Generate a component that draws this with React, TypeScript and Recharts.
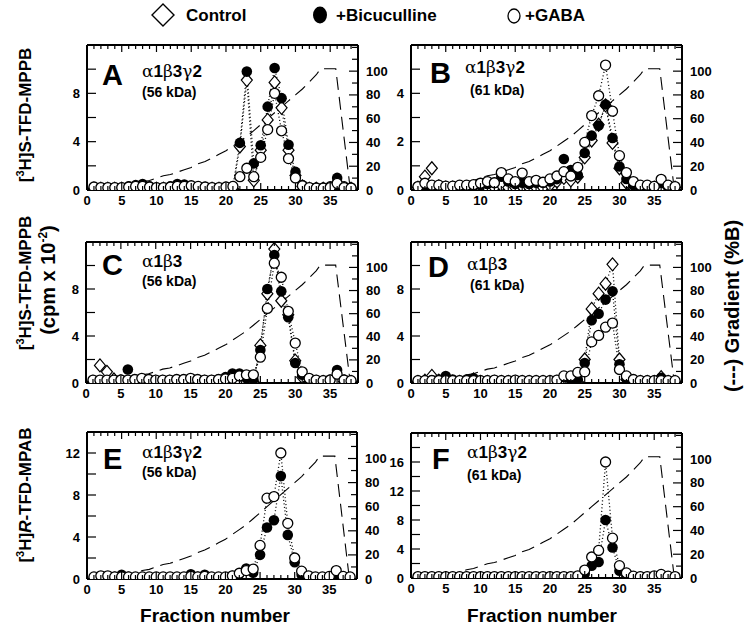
import { ComposedChart, Line, ReferenceLine, Scatter, XAxis, YAxis } from "recharts"

const FONT = '"Liberation Sans", Arial, Helvetica, sans-serif'

// fraction numbers collected on every run
const fractions = [
  1, 2, 3, 4, 5, 6, 7, 8, 9, 10, 11, 12, 13, 14, 15, 16, 17, 18, 19, 20, 21, 22, 23, 24, 25, 26, 27, 28, 29, 30, 31, 32, 33, 34,
  35, 36, 37, 38,
]

// elution gradient (%B) on the right axis
const gradientFraction = [5, 6, 7, 8, 9, 10, 11, 12, 13, 14, 15, 16, 17, 18, 19, 20, 21, 22, 23, 24, 25, 26, 27, 28, 29, 30, 31, 32, 33, 33.6, 35.8, 37.9]
const gradientPercent = [3, 4, 5, 7, 8, 10, 12, 13, 15, 17, 19, 22, 24, 27, 30, 33, 37, 41, 45, 50, 55, 60, 65, 70, 75, 80, 85, 91, 97, 102, 102, 0]

// A: a1b3g2, 56 kDa, [3H]S-TFD-MPPB (cpm x 10^-2)
const controlA = [
  0.1, 0.1, 0.1, 0.1, 0.1, 0.1, 0.1, 0.1, 0.1, 0.1, 0.1, 0.1, 0.1, 0.1, 0.1, 0.1, 0.1, 0.1, 0.1, 0.1, 0.1, 3.6, 9.1, 0.8, 3.3, 5.8,
  8.9, 6.8, 3.3, 1.2, 0.3, 0.1, 0.1, 0.1, 0.1, 0.6, 0.1, 0.1,
]
const bicA = [
  0.2, 0.2, 0.2, 0.2, 0.2, 0.3, 0.4, 0.5, 0.3, 0.2, 0.2, 0.3, 0.5, 0.45, 0.3, 0.2, 0.2, 0.2, 0.2, 0.2, 0.3, 3.9, 9.8, 2.2, 3.7, 6.9,
  10.1, 7.6, 3.75, 1.5, 0.4, 0.2, 0.2, 0.2, 0.3, 1.0, 0.3, 0.2,
]
const gabaA = [
  0.25, 0.2, 0.2, 0.2, 0.2, 0.25, 0.3, 0.3, 0.25, 0.2, 0.2, 0.25, 0.3, 0.3, 0.35, 0.3, 0.25, 0.2, 0.2, 0.25, 0.3, 1.1, 1.8, 1.1, 2.7,
  5.0, 8.0, 4.9, 2.6, 1.0, 0.35, 0.2, 0.15, 0.15, 0.2, 0.55, 0.2, 0.15,
]

// B: a1b3g2, 61 kDa
const controlB = [
  0.1, 0.55, 0.9, 0.15, 0.1, 0.1, 0.1, 0.1, 0.1, 0.1, 0.1, 0.1, 0.2, 0.1, 0.1, 0.15, 0.1, 0.1, 0.1, 0.2, 0.35, 0.5, 0.4, 0.55, 1.35,
  2.05, 2.7, 3.5, 1.95, 0.9, 0.3, 0.1, 0.1, 0.1, 0.1, 0.1, 0.1, 0.1,
]
const bicB = [
  0.15, 0.15, 0.15, 0.15, 0.15, 0.15, 0.15, 0.15, 0.2, 0.2, 0.25, 0.3, 0.55, 0.35, 0.25, 0.3, 0.25, 0.3, 0.3, 0.35, 0.45, 1.28, 0.83,
  0.62, 1.53, 2.25, 2.67, 3.54, 2.15, 0.97, 0.46, 0.2, 0.15, 0.15, 0.15, 0.3, 0.15, 0.1,
]
const gabaB = [
  0.14, 0.28, 0.2, 0.2, 0.16, 0.16, 0.2, 0.2, 0.22, 0.28, 0.35, 0.3, 0.72, 0.46, 0.35, 0.7, 0.35, 0.4, 0.32, 0.46, 0.58, 0.76, 0.58,
  0.94, 1.97, 3.08, 3.9, 5.17, 3.26, 1.42, 0.72, 0.35, 0.2, 0.2, 0.15, 0.44, 0.2, 0.14,
]

// C: a1b3, 56 kDa
const controlC = [
  0.1, 1.5, 0.95, 0.3, 0.1, 0.1, 0.1, 0.1, 0.1, 0.1, 0.1, 0.1, 0.1, 0.1, 0.1, 0.1, 0.1, 0.1, 0.1, 0.1, 0.1, 0.1, 0.1, 0.1, 3.2, 7.6,
  11.4, 7.0, 5.8, 1.9, 0.5, 0.1, 0.1, 0.1, 0.1, 0.1, 0.1, 0.1,
]
const bicC = [
  0.2, 0.2, 0.2, 0.2, 0.3, 1.15, 0.3, 0.2, 0.2, 0.2, 0.2, 0.2, 0.2, 0.2, 0.2, 0.2, 0.2, 0.2, 0.3, 0.5, 0.8, 0.8, 0.4, 0.3, 2.8, 8.0,
  10.9, 7.8, 5.6, 1.7, 0.7, 0.2, 0.2, 0.2, 0.3, 1.1, 0.3, 0.2,
]
const gabaC = [
  0.25, 0.25, 0.25, 0.25, 0.25, 0.25, 0.3, 0.4, 0.3, 0.25, 0.25, 0.25, 0.3, 0.3, 0.4, 0.3, 0.25, 0.25, 0.3, 0.35, 0.4, 0.6, 0.7, 0.7,
  2.2, 6.35, 10.2, 9.0, 6.1, 3.4, 0.95, 0.4, 0.25, 0.2, 0.25, 0.75, 0.25, 0.2,
]

// D: a1b3, 61 kDa
const controlD = [
  0.1, 0.2, 0.6, 0.2, 0.1, 0.1, 0.1, 0.1, 0.3, 0.1, 0.1, 0.1, 0.1, 0.1, 0.1, 0.1, 0.1, 0.1, 0.1, 0.1, 0.1, 0.1, 0.1, 0.1, 2.0, 6.3,
  7.6, 8.45, 10.1, 2.0, 0.3, 0.1, 0.1, 0.1, 0.1, 0.5, 0.1, 0.1,
]
const bicD = [
  0.2, 0.2, 0.25, 0.3, 0.6, 0.3, 0.2, 0.3, 0.4, 0.2, 0.2, 0.2, 0.2, 0.2, 0.2, 0.2, 0.2, 0.2, 0.2, 0.2, 0.2, 0.5, 0.3, 0.3, 1.7, 5.35,
  5.9, 7.1, 7.8, 1.6, 0.4, 0.2, 0.2, 0.2, 0.2, 0.45, 0.2, 0.15,
]
const gabaD = [
  0.2, 0.2, 0.2, 0.2, 0.2, 0.2, 0.2, 0.2, 0.2, 0.2, 0.2, 0.25, 0.2, 0.2, 0.25, 0.2, 0.2, 0.2, 0.2, 0.2, 0.25, 0.6, 0.6, 0.9, 0.95,
  3.5, 4.05, 4.75, 5.1, 1.15, 0.6, 0.3, 0.2, 0.2, 0.2, 0.2, 0.2, 0.2,
]

// E: a1b3g2, 56 kDa, [3H]R-TFD-MPAB
const bicE = [
  0.15, 0.15, 0.15, 0.2, 0.4, 0.2, 0.15, 0.15, 0.15, 0.15, 0.15, 0.15, 0.15, 0.15, 0.45, 0.2, 0.4, 0.15, 0.15, 0.15, 0.3, 0.5, 1.0,
  0.6, 2.3, 4.9, 5.6, 9.8, 4.2, 1.6, 0.4, 0.15, 0.15, 0.15, 0.15, 0.5, 0.15, 0.15,
]
const gabaE = [
  0.2, 0.3, 0.3, 0.2, 0.2, 0.2, 0.2, 0.2, 0.2, 0.2, 0.2, 0.2, 0.2, 0.2, 0.25, 0.2, 0.25, 0.2, 0.2, 0.2, 0.3, 0.55, 0.8, 0.95, 3.2,
  7.7, 7.85, 12.0, 5.3, 2.0, 0.75, 0.3, 0.2, 0.2, 0.25, 0.8, 0.25, 0.2,
]

// F: a1b3g2, 61 kDa
const bicF = [
  0.15, 0.15, 0.15, 0.15, 0.15, 0.15, 0.15, 0.15, 0.15, 0.15, 0.15, 0.15, 0.15, 0.15, 0.15, 0.15, 0.15, 0.15, 0.15, 0.15, 0.15,
  0.15, 0.15, 0.15, 0.6, 1.7, 2.2, 8.0, 4.2, 1.0, 0.3, 0.15, 0.15, 0.15, 0.15, 0.15, 0.15, 0.15,
]
const gabaF = [
  0.2, 0.2, 0.2, 0.2, 0.2, 0.2, 0.2, 0.2, 0.2, 0.2, 0.2, 0.2, 0.2, 0.2, 0.2, 0.2, 0.2, 0.2, 0.2, 0.2, 0.2, 0.2, 0.2, 0.3, 1.1, 2.9,
  3.8, 16.0, 5.5, 1.7, 0.7, 0.25, 0.2, 0.2, 0.3, 0.5, 0.25, 0.2,
]

const xTicks = Array.from({ length: 40 }, (_, i) => i)
const gradTicks = [0, 10, 20, 30, 40, 50, 60, 70, 80, 90, 100, 110, 120]

const panels = [
  { id: "A", sub: "a1b3g2", kda: "(56 kDa)", control: controlA, bic: bicA, gaba: gabaA, yMax: 12, yStep: 2, yLabel: 4, from: 21, to: 31,
    left: 87, top: 45, right: 358, bottom: 190, lx: 15, ly: 40, gx: 55, gy: 32, kx: 55, ky: 52 },
  { id: "B", sub: "a1b3g2", kda: "(61 kDa)", control: controlB, bic: bicB, gaba: gabaB, yMax: 6, yStep: 1, yLabel: 2, from: 24, to: 31,
    left: 411, top: 45, right: 682, bottom: 190, lx: 19, ly: 38, gx: 54, gy: 28, kx: 59, ky: 50 },
  { id: "C", sub: "a1b3", kda: "(56 kDa)", control: controlC, bic: bicC, gaba: gabaC, yMax: 12, yStep: 2, yLabel: 4, from: 24, to: 31,
    left: 86, top: 242, right: 358, bottom: 383, lx: 16, ly: 33, gx: 56, gy: 25, kx: 56, ky: 44 },
  { id: "D", sub: "a1b3", kda: "(61 kDa)", control: controlD, bic: bicD, gaba: gabaD, yMax: 12, yStep: 2, yLabel: 4, from: 24, to: 31,
    left: 411, top: 242, right: 682, bottom: 383, lx: 17, ly: 35, gx: 56, gy: 28, kx: 59, ky: 48 },
  { id: "E", sub: "a1b3g2", kda: "(56 kDa)", control: null, bic: bicE, gaba: gabaE, yMax: 14, yStep: 2, yLabel: 4, from: 24, to: 31,
    left: 87, top: 432, right: 357, bottom: 579, lx: 16, ly: 37, gx: 55, gy: 26, kx: 55, ky: 45 },
  { id: "F", sub: "a1b3g2", kda: "(61 kDa)", control: null, bic: bicF, gaba: gabaF, yMax: 20, yStep: 2, yLabel: 4, from: 25, to: 31,
    left: 411, top: 433, right: 682, bottom: 578, lx: 21, ly: 36, gx: 56, gy: 25, kx: 56, ky: 47 },
]

const gradData = gradientFraction.map((x, i) => ({ x, g: gradientPercent[i] }))

const diamond = (props: any) => {
  const { cx, cy } = props
  if (cx == null || cy == null) return <g />
  return (
    <path
      d={`M${cx},${cy - 6.5}L${cx + 5.5},${cy}L${cx},${cy + 6.5}L${cx - 5.5},${cy}Z`}
      fill="#fff"
      stroke="#000"
      strokeWidth={1.2}
    />
  )
}
const filled = (props: any) => <circle cx={props.cx} cy={props.cy} r={5.3} fill="#000" />
const ring = (props: any) => <circle cx={props.cx} cy={props.cy} r={5} fill="#fff" stroke="#000" strokeWidth={1.3} />

const tickText = { fontFamily: FONT, fontSize: 13, fontWeight: 700, fill: "#000" }

function Greek({ sub }: { sub: string }) {
  // a1b3g2 -> α1β3γ2
  const map: Record<string, string> = { a: "α", b: "β", g: "γ" }
  return (
    <>
      {sub.split("").map((c, i) =>
        map[c] ? (
          <tspan key={i} fontFamily='"DejaVu Serif", "Liberation Serif", serif' fontWeight={400}>
            {map[c]}
          </tspan>
        ) : (
          <tspan key={i}>{c}</tspan>
        )
      )}
    </>
  )
}

function Panel({ p }: { p: (typeof panels)[number] }) {
  const plotW = p.right - p.left
  const plotH = p.bottom - p.top
  const pts = (vals: number[]) => fractions.map((x, i) => ({ x, y: vals[i] }))
  const peak = (vals: number[]) => pts(vals).filter((d) => d.x >= p.from && d.x <= p.to)
  const yTicks: number[] = []
  for (let v = 0; v <= p.yMax; v += p.yStep) yTicks.push(v)
  const series = [p.control, p.bic, p.gaba].filter(Boolean) as number[][]

  return (
    <div style={{ position: "absolute", left: p.left - 40, top: p.top - 10 }}>
      <ComposedChart width={plotW + 80} height={plotH + 40} margin={{ top: 10, right: 0, bottom: 0, left: 0 }}>
        <XAxis
          type="number"
          dataKey="x"
          domain={[0, 39]}
          ticks={xTicks}
          interval={0}
          height={30}
          tickSize={0}
          tickMargin={0}
          tickLine={false}
          axisLine={{ stroke: "#000", strokeWidth: 2 }}
          allowDataOverflow
          tick={(t: any) => {
            const v = t.payload.value
            const major = v % 5 === 0
            const len = major ? 7 : 4
            const edge = v === 0 || v === 39
            return (
              <g>
                {!edge && <line x1={t.x} x2={t.x} y1={t.y} y2={t.y - len} stroke="#000" strokeWidth={1.2} />}
                {!edge && <line x1={t.x} x2={t.x} y1={t.y - plotH} y2={t.y - plotH + len} stroke="#000" strokeWidth={1.2} />}
                {major && v <= 35 && (
                  <text x={t.x} y={t.y + 15} textAnchor="middle" {...tickText}>
                    {v}
                  </text>
                )}
              </g>
            )
          }}
        />
        <YAxis
          yAxisId="L"
          orientation="left"
          type="number"
          dataKey="y"
          domain={[0, p.yMax]}
          ticks={yTicks}
          interval={0}
          width={40}
          tickSize={0}
          tickMargin={0}
          tickLine={false}
          axisLine={{ stroke: "#000", strokeWidth: 2 }}
          allowDataOverflow
          tick={(t: any) => {
            const v = t.payload.value
            const labelled = v % p.yLabel === 0 && v < p.yMax
            return (
              <g>
                {v > 0 && v < p.yMax && <line x1={t.x} x2={t.x + 9} y1={t.y} y2={t.y} stroke="#000" strokeWidth={1.2} />}
                {labelled && (
                  <text x={t.x - 7} y={t.y + 4.5} textAnchor="end" {...tickText}>
                    {v}
                  </text>
                )}
              </g>
            )
          }}
        />
        <YAxis
          yAxisId="R"
          orientation="right"
          type="number"
          domain={[0, 122]}
          ticks={gradTicks}
          interval={0}
          width={40}
          tickSize={0}
          tickMargin={0}
          tickLine={false}
          axisLine={{ stroke: "#000", strokeWidth: 2 }}
          allowDataOverflow
          tick={(t: any) => {
            const v = t.payload.value
            const labelled = v % 20 === 0 && v <= 100
            return (
              <g>
                {v > 0 && <line x1={t.x} x2={t.x - (labelled ? 9 : 6)} y1={t.y} y2={t.y} stroke="#000" strokeWidth={1.2} />}
                {labelled && (
                  <text x={t.x + 8} y={t.y + 4.5} textAnchor="start" {...tickText}>
                    {v}
                  </text>
                )}
              </g>
            )
          }}
        />
        <ReferenceLine yAxisId="L" y={p.yMax} stroke="#000" strokeWidth={2} />
        <Line
          yAxisId="R"
          data={gradData}
          dataKey="g"
          type="linear"
          stroke="#000"
          strokeWidth={1.1}
          strokeDasharray="13 7"
          dot={false}
          isAnimationActive={false}
        />
        {series.map((vals, i) => (
          <Line
            key={"dot" + i}
            yAxisId="L"
            data={peak(vals)}
            dataKey="y"
            type="linear"
            stroke="#000"
            strokeWidth={1.3}
            strokeDasharray="1 2.5"
            dot={false}
            isAnimationActive={false}
          />
        ))}
        {p.control && <Scatter yAxisId="L" data={pts(p.control)} shape={diamond} isAnimationActive={false} />}
        <Scatter yAxisId="L" data={pts(p.bic)} shape={filled} isAnimationActive={false} />
        <Scatter yAxisId="L" data={pts(p.gaba)} shape={ring} isAnimationActive={false} />
      </ComposedChart>
    </div>
  )
}

const bold = { fontFamily: FONT, fontWeight: 700, fill: "#000" }

export default function App() {
  return (
    <div style={{ position: "absolute", left: 0, top: 0, width: 745, height: 628, background: "#fff", overflow: "hidden" }}>
      {panels.map((p) => (
        <Panel key={p.id} p={p} />
      ))}
      <svg width={745} height={628} style={{ position: "absolute", left: 0, top: 0, pointerEvents: "none" }}>
        {/* legend */}
        <path d="M163,4L174,15L163,26L152,15Z" fill="#fff" stroke="#000" strokeWidth={1.4} />
        <text x={186} y={21} fontSize={17} {...bold}>
          Control
        </text>
        <ellipse cx={320} cy={15} rx={7} ry={8.5} fill="#000" />
        <text x={336} y={21} fontSize={17} {...bold}>
          +Bicuculline
        </text>
        <ellipse cx={514} cy={16} rx={6} ry={7} fill="#fff" stroke="#000" strokeWidth={1.3} />
        <text x={525} y={21} fontSize={17} {...bold}>
          +GABA
        </text>

        {/* panel labels */}
        {panels.map((p) => (
          <g key={p.id}>
            <text x={p.left + p.lx} y={p.top + p.ly} fontSize={29} {...bold}>
              {p.id}
            </text>
            <text x={p.left + p.gx} y={p.top + p.gy} fontSize={17} {...bold}>
              <Greek sub={p.sub} />
            </text>
            <text x={p.left + p.kx} y={p.top + p.ky} fontSize={14} {...bold}>
              {p.kda}
            </text>
          </g>
        ))}

        {/* left axis titles */}
        <text transform="translate(31,115) rotate(-90)" textAnchor="middle" fontSize={17} {...bold}>
          [<tspan fontSize={11} dy={-7}>3</tspan>
          <tspan dy={7}>H]S-TFD-MPPB</tspan>
        </text>
        <text transform="translate(31,283) rotate(-90)" textAnchor="middle" fontSize={17} {...bold}>
          [<tspan fontSize={11} dy={-7}>3</tspan>
          <tspan dy={7}>H]S-TFD-MPPB</tspan>
        </text>
        <text transform="translate(55,280) rotate(-90)" textAnchor="middle" fontSize={20} {...bold}>
          (cpm x 10<tspan fontSize={12} dy={-8}>-2</tspan>
          <tspan dy={8}>)</tspan>
        </text>
        <text transform="translate(31,495) rotate(-90)" textAnchor="middle" fontSize={17} {...bold}>
          [<tspan fontSize={11} dy={-7}>3</tspan>
          <tspan dy={7}>H]</tspan>
          <tspan fontStyle="italic">R</tspan>-TFD-MPAB
        </text>

        {/* right axis title */}
        <text transform="translate(739,306) rotate(-90)" textAnchor="middle" fontSize={20} {...bold}>
          (---) Gradient (%B)
        </text>

        {/* x titles */}
        <text x={215} y={622} textAnchor="middle" fontSize={19} {...bold}>
          Fraction number
        </text>
        <text x={542} y={622} textAnchor="middle" fontSize={19} {...bold}>
          Fraction number
        </text>
      </svg>
    </div>
  )
}
